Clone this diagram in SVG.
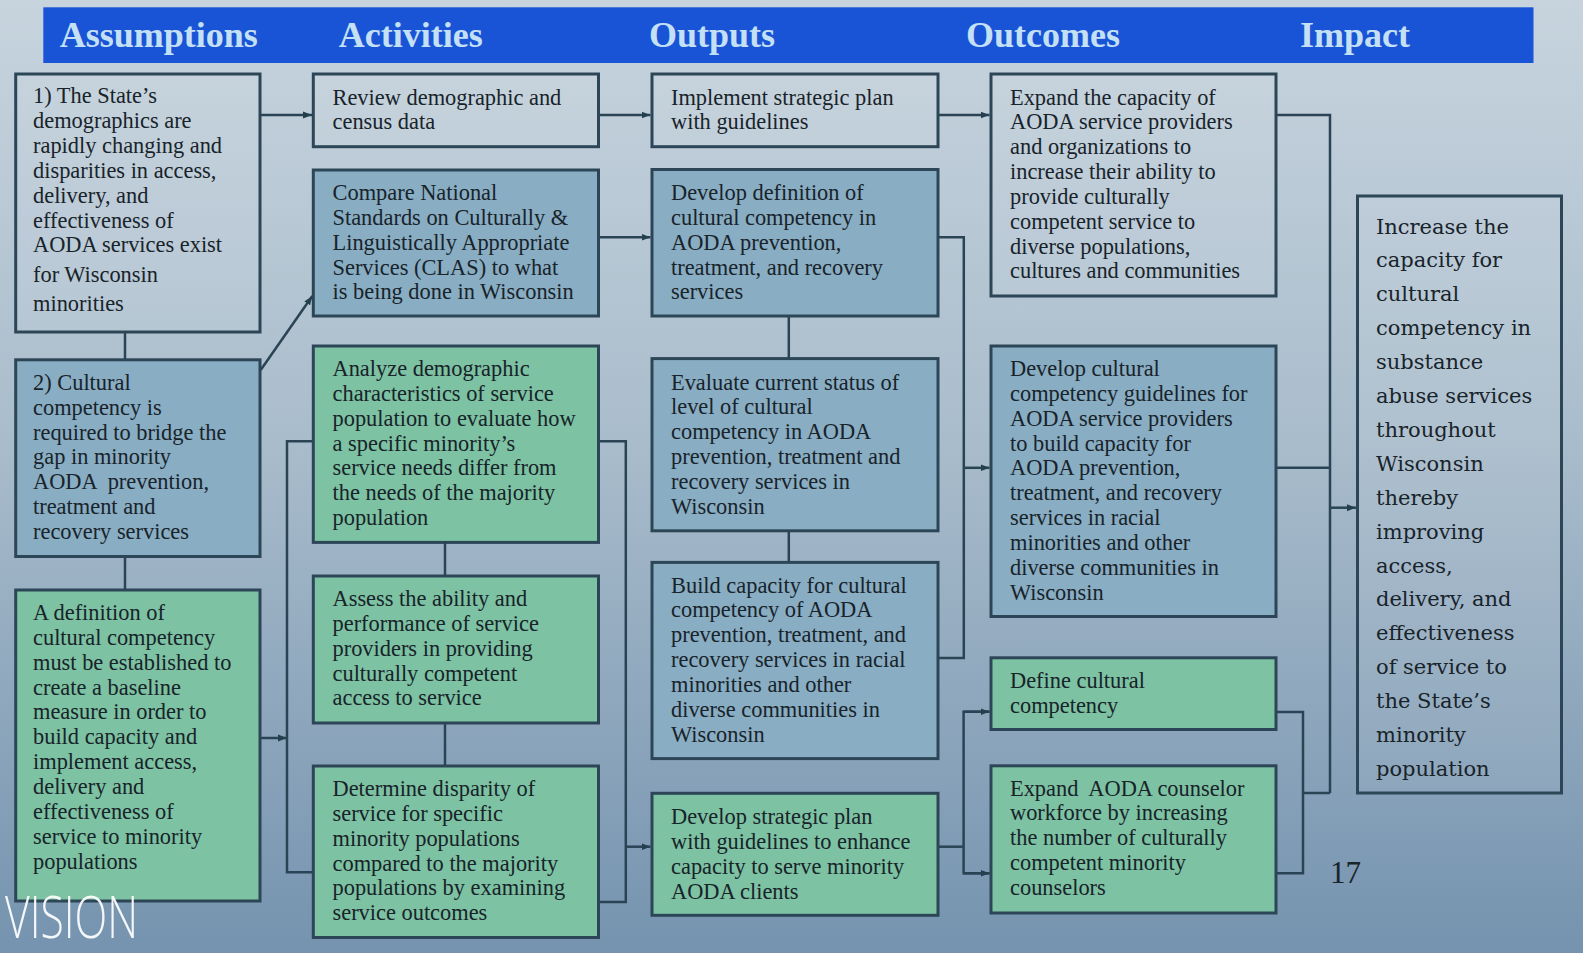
<svg xmlns="http://www.w3.org/2000/svg" width="1583" height="953" viewBox="0 0 1583 953">
  <defs>
    <linearGradient id="bg" x1="0" y1="0" x2="0" y2="1">
      <stop offset="0" stop-color="#c7d4de"/>
      <stop offset="0.45" stop-color="#aabdcc"/>
      <stop offset="1" stop-color="#7593af"/>
    </linearGradient>
    <marker id="arrow" markerUnits="userSpaceOnUse" markerWidth="10" markerHeight="8" refX="9" refY="4" orient="auto">
      <path d="M0,0.5 L9,4 L0,7.5 z" fill="#24404f"/>
    </marker>
    <style>
      .box { stroke: #2c4657; stroke-width: 3; }
      .light { fill: #ffffff; fill-opacity: 0.07; }
      .steel { fill: #89adc3; }
      .green { fill: #7dc2a2; }
      .t { font-family: "Liberation Serif", "Times New Roman", serif; font-size: 22.4px; fill: #18232a; }
      .big { font-family: "DejaVu Serif", "Liberation Serif", serif; font-size: 21px; fill: #18232a; }
      .hdr { font-family: "Liberation Serif", "Times New Roman", serif; font-weight: bold; font-size: 36px; fill: #c4e0f5; }
      .conn line, .conn path { stroke: #2a4456; stroke-width: 2.5; fill: none; }
    </style>
  </defs>

  <!-- backdrop -->
  <rect x="0" y="0" width="1583" height="953" fill="url(#bg)"/>

  <!-- column header banner -->
  <g id="header">
    <rect x="43.3" y="7.3" width="1490.2" height="55.7" fill="#1a54d6"/>
    <text class="hdr" x="59.8" y="47">Assumptions</text>
    <text class="hdr" x="338.8" y="47">Activities</text>
    <text class="hdr" x="649" y="47">Outputs</text>
    <text class="hdr" x="966" y="47">Outcomes</text>
    <text class="hdr" x="1300" y="47">Impact</text>
  </g>

  <!-- connectors -->
  <g id="connectors" class="conn">
    <line x1="125" y1="332" x2="125" y2="359.8"/>
    <line x1="125" y1="556.5" x2="125" y2="590"/>
    <line x1="260" y1="115" x2="312" y2="115" marker-end="url(#arrow)"/>
    <line x1="260.7" y1="370" x2="312.3" y2="296" marker-end="url(#arrow)"/>
    <line x1="260" y1="738" x2="287" y2="738" marker-end="url(#arrow)"/>
    <path d="M313.3,441.2 H287 V872.3 H313.3"/>
    <line x1="445" y1="542.4" x2="445" y2="576"/>
    <line x1="445" y1="723" x2="445" y2="766"/>
    <path d="M598.5,441.2 H625.8 V902 H598.5"/>
    <line x1="625.8" y1="846.7" x2="650.5" y2="846.7" marker-end="url(#arrow)"/>
    <line x1="598.5" y1="115" x2="650.5" y2="115" marker-end="url(#arrow)"/>
    <line x1="598.5" y1="237.3" x2="650.5" y2="237.3" marker-end="url(#arrow)"/>
    <line x1="788.8" y1="316" x2="788.8" y2="358.6"/>
    <line x1="788.8" y1="530.8" x2="788.8" y2="562.4"/>
    <path d="M938,237.3 H963.8 V658 H938"/>
    <line x1="963.8" y1="467.8" x2="989.5" y2="467.8" marker-end="url(#arrow)"/>
    <line x1="938" y1="115" x2="989.5" y2="115" marker-end="url(#arrow)"/>
    <line x1="938" y1="846.7" x2="963.6" y2="846.7"/>
    <path d="M989.5,711.7 H963.6 V873.3 H989.5"/>
    <line x1="963.6" y1="711.7" x2="989.5" y2="711.7" marker-end="url(#arrow)"/>
    <line x1="963.6" y1="873.3" x2="989.5" y2="873.3" marker-end="url(#arrow)"/>
    <path d="M1276,115 H1330 V793"/>
    <line x1="1276" y1="467.8" x2="1330" y2="467.8"/>
    <path d="M1276,712 H1303 V873.3 H1276"/>
    <line x1="1303" y1="793" x2="1330" y2="793"/>
    <line x1="1330" y1="507.7" x2="1356" y2="507.7" marker-end="url(#arrow)"/>
  </g>

  <!-- Assumptions -->
  <g id="assumption-1">
    <rect class="box light" x="15.7" y="74" width="244.3" height="258"/>
    <text class="t"><tspan x="33" y="103.3">1) The State’s</tspan><tspan x="33" y="128.2">demographics are</tspan><tspan x="33" y="153">rapidly changing and</tspan><tspan x="33" y="177.9">disparities in access,</tspan><tspan x="33" y="202.7">delivery, and</tspan><tspan x="33" y="227.6">effectiveness of</tspan><tspan x="33" y="252.4">AODA services exist</tspan><tspan x="33" y="281.7">for Wisconsin</tspan><tspan x="33" y="310.7">minorities</tspan></text>
  </g>
  <g id="assumption-2">
    <rect class="box steel" x="15.7" y="359.8" width="244.3" height="196.7"/>
    <text class="t"><tspan x="33" y="389.8">2) Cultural</tspan><tspan x="33" dy="24.85">competency is</tspan><tspan x="33" dy="24.85">required to bridge the</tspan><tspan x="33" dy="24.85">gap in minority</tspan><tspan x="33" dy="24.85" xml:space="preserve">AODA  prevention,</tspan><tspan x="33" dy="24.85">treatment and</tspan><tspan x="33" dy="24.85">recovery services</tspan></text>
  </g>
  <g id="assumption-3">
    <rect class="box green" x="15.7" y="590" width="244.3" height="311"/>
    <text class="t"><tspan x="33" y="620">A definition of</tspan><tspan x="33" dy="24.85">cultural competency</tspan><tspan x="33" dy="24.85">must be established to</tspan><tspan x="33" dy="24.85">create a baseline</tspan><tspan x="33" dy="24.85">measure in order to</tspan><tspan x="33" dy="24.85">build capacity and</tspan><tspan x="33" dy="24.85">implement access,</tspan><tspan x="33" dy="24.85">delivery and</tspan><tspan x="33" dy="24.85">effectiveness of</tspan><tspan x="33" dy="24.85">service to minority</tspan><tspan x="33" dy="24.85">populations</tspan></text>
  </g>

  <!-- Activities -->
  <g id="activity-1">
    <rect class="box light" x="313.3" y="74" width="285.2" height="72.7"/>
    <text class="t"><tspan x="332.5" y="104.5">Review demographic and</tspan><tspan x="332.5" dy="24.85">census data</tspan></text>
  </g>
  <g id="activity-2">
    <rect class="box steel" x="313.3" y="170" width="285.2" height="146"/>
    <text class="t"><tspan x="332.5" y="200">Compare National</tspan><tspan x="332.5" dy="24.85">Standards on Culturally &amp;</tspan><tspan x="332.5" dy="24.85">Linguistically Appropriate</tspan><tspan x="332.5" dy="24.85">Services (CLAS) to what</tspan><tspan x="332.5" dy="24.85">is being done in Wisconsin</tspan></text>
  </g>
  <g id="activity-3">
    <rect class="box green" x="313.3" y="346" width="285.2" height="196.4"/>
    <text class="t"><tspan x="332.5" y="376">Analyze demographic</tspan><tspan x="332.5" dy="24.85">characteristics of service</tspan><tspan x="332.5" dy="24.85">population to evaluate how</tspan><tspan x="332.5" dy="24.85">a specific minority’s</tspan><tspan x="332.5" dy="24.85">service needs differ from</tspan><tspan x="332.5" dy="24.85">the needs of the majority</tspan><tspan x="332.5" dy="24.85">population</tspan></text>
  </g>
  <g id="activity-4">
    <rect class="box green" x="313.3" y="576" width="285.2" height="147"/>
    <text class="t"><tspan x="332.5" y="606">Assess the ability and</tspan><tspan x="332.5" dy="24.85">performance of service</tspan><tspan x="332.5" dy="24.85">providers in providing</tspan><tspan x="332.5" dy="24.85">culturally competent</tspan><tspan x="332.5" dy="24.85">access to service</tspan></text>
  </g>
  <g id="activity-5">
    <rect class="box green" x="313.3" y="766" width="285.2" height="171.5"/>
    <text class="t"><tspan x="332.5" y="796">Determine disparity of</tspan><tspan x="332.5" dy="24.85">service for specific</tspan><tspan x="332.5" dy="24.85">minority populations</tspan><tspan x="332.5" dy="24.85">compared to the majority</tspan><tspan x="332.5" dy="24.85">populations by examining</tspan><tspan x="332.5" dy="24.85">service outcomes</tspan></text>
  </g>

  <!-- Outputs -->
  <g id="output-1">
    <rect class="box light" x="652" y="74" width="286" height="72.7"/>
    <text class="t"><tspan x="671" y="104.5">Implement strategic plan</tspan><tspan x="671" dy="24.85">with guidelines</tspan></text>
  </g>
  <g id="output-2">
    <rect class="box steel" x="652" y="169.5" width="286" height="146.5"/>
    <text class="t"><tspan x="671" y="200">Develop definition of</tspan><tspan x="671" dy="24.85">cultural competency in</tspan><tspan x="671" dy="24.85">AODA prevention,</tspan><tspan x="671" dy="24.85">treatment, and recovery</tspan><tspan x="671" dy="24.85">services</tspan></text>
  </g>
  <g id="output-3">
    <rect class="box steel" x="652" y="358.6" width="286" height="172.2"/>
    <text class="t"><tspan x="671" y="389.5">Evaluate current status of</tspan><tspan x="671" dy="24.85">level of cultural</tspan><tspan x="671" dy="24.85">competency in AODA</tspan><tspan x="671" dy="24.85">prevention, treatment and</tspan><tspan x="671" dy="24.85">recovery services in</tspan><tspan x="671" dy="24.85">Wisconsin</tspan></text>
  </g>
  <g id="output-4">
    <rect class="box steel" x="652" y="562.4" width="286" height="196.2"/>
    <text class="t"><tspan x="671" y="592.6">Build capacity for cultural</tspan><tspan x="671" dy="24.85">competency of AODA</tspan><tspan x="671" dy="24.85">prevention, treatment, and</tspan><tspan x="671" dy="24.85">recovery services in racial</tspan><tspan x="671" dy="24.85">minorities and other</tspan><tspan x="671" dy="24.85">diverse communities in</tspan><tspan x="671" dy="24.85">Wisconsin</tspan></text>
  </g>
  <g id="output-5">
    <rect class="box green" x="652" y="793.3" width="286" height="122"/>
    <text class="t"><tspan x="671" y="824">Develop strategic plan</tspan><tspan x="671" dy="24.85">with guidelines to enhance</tspan><tspan x="671" dy="24.85">capacity to serve minority</tspan><tspan x="671" dy="24.85">AODA clients</tspan></text>
  </g>

  <!-- Outcomes -->
  <g id="outcome-1">
    <rect class="box light" x="991" y="74" width="285" height="222"/>
    <text class="t"><tspan x="1010" y="104.5">Expand the capacity of</tspan><tspan x="1010" dy="24.85">AODA service providers</tspan><tspan x="1010" dy="24.85">and organizations to</tspan><tspan x="1010" dy="24.85">increase their ability to</tspan><tspan x="1010" dy="24.85">provide culturally</tspan><tspan x="1010" dy="24.85">competent service to</tspan><tspan x="1010" dy="24.85">diverse populations,</tspan><tspan x="1010" dy="24.85">cultures and communities</tspan></text>
  </g>
  <g id="outcome-2">
    <rect class="box steel" x="991" y="346" width="285" height="270.5"/>
    <text class="t"><tspan x="1010" y="376">Develop cultural</tspan><tspan x="1010" dy="24.85">competency guidelines for</tspan><tspan x="1010" dy="24.85">AODA service providers</tspan><tspan x="1010" dy="24.85">to build capacity for</tspan><tspan x="1010" dy="24.85">AODA prevention,</tspan><tspan x="1010" dy="24.85">treatment, and recovery</tspan><tspan x="1010" dy="24.85">services in racial</tspan><tspan x="1010" dy="24.85">minorities and other</tspan><tspan x="1010" dy="24.85">diverse communities in</tspan><tspan x="1010" dy="24.85">Wisconsin</tspan></text>
  </g>
  <g id="outcome-3">
    <rect class="box green" x="991" y="657.8" width="285" height="71.7"/>
    <text class="t"><tspan x="1010" y="688">Define cultural</tspan><tspan x="1010" dy="24.85">competency</tspan></text>
  </g>
  <g id="outcome-4">
    <rect class="box green" x="991" y="765.8" width="285" height="147.2"/>
    <text class="t"><tspan x="1010" y="795.5" xml:space="preserve">Expand  AODA counselor</tspan><tspan x="1010" dy="24.85">workforce by increasing</tspan><tspan x="1010" dy="24.85">the number of culturally</tspan><tspan x="1010" dy="24.85">competent minority</tspan><tspan x="1010" dy="24.85">counselors</tspan></text>
  </g>

  <!-- Impact -->
  <g id="impact">
    <rect class="box light" x="1357.5" y="196" width="204" height="597"/>
    <text class="big"><tspan x="1376" y="233.5">Increase the</tspan><tspan x="1376" dy="33.9">capacity for</tspan><tspan x="1376" dy="33.9">cultural</tspan><tspan x="1376" dy="33.9">competency in</tspan><tspan x="1376" dy="33.9">substance</tspan><tspan x="1376" dy="33.9">abuse services</tspan><tspan x="1376" dy="33.9">throughout</tspan><tspan x="1376" dy="33.9">Wisconsin</tspan><tspan x="1376" dy="33.9">thereby</tspan><tspan x="1376" dy="33.9">improving</tspan><tspan x="1376" dy="33.9">access,</tspan><tspan x="1376" dy="33.9">delivery, and</tspan><tspan x="1376" dy="33.9">effectiveness</tspan><tspan x="1376" dy="33.9">of service to</tspan><tspan x="1376" dy="33.9">the State’s</tspan><tspan x="1376" dy="33.9">minority</tspan><tspan x="1376" dy="33.9">population</tspan></text>
  </g>

  <!-- slide number and logo -->
  <text x="1330" y="883" font-family="Liberation Serif, serif" font-size="31" fill="#18232a">17</text>
  <text x="5" y="938" font-family="Open Sans, Liberation Sans, sans-serif" font-weight="300" font-size="58" fill="#ffffff" fill-opacity="0.92" textLength="133" lengthAdjust="spacingAndGlyphs">VISION</text>
</svg>
